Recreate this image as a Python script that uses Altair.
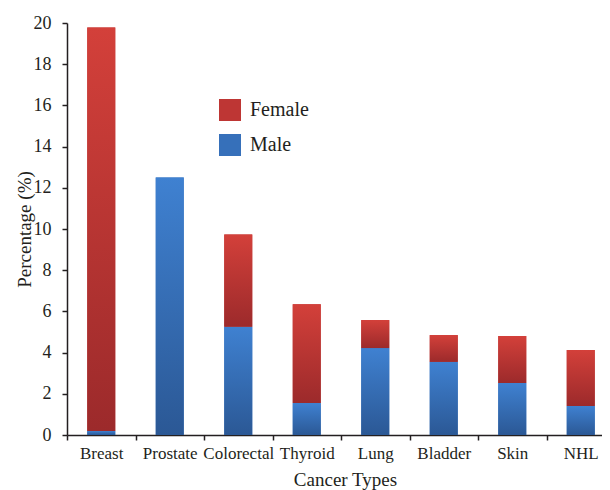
import altair as alt
import pandas as pd

categories = ["Breast", "Prostate", "Colorectal", "Thyroid", "Lung", "Bladder", "Skin", "NHL"]
male = [0.2, 12.5, 5.25, 1.55, 4.22, 3.55, 2.52, 1.41]
female = [19.58, 0.0, 4.48, 4.8, 1.36, 1.3, 2.28, 2.72]

FONT = "Liberation Serif"
TXT = "#231F20"

wide = pd.DataFrame({"cat": categories, "male": male, "female": female})
wide["total"] = wide["male"] + wide["female"]

long_rows = []
for c, m, f in zip(categories, male, female):
    long_rows.append({"cat": c, "sex": "Male", "lo": 0.0, "hi": m})
    long_rows.append({"cat": c, "sex": "Female", "lo": m, "hi": m + f})
long = pd.DataFrame(long_rows)

red_grad = alt.Gradient(
    gradient="linear", x1=0, y1=0, x2=0, y2=1,
    stops=[alt.GradientStop(color="#D3403A", offset=0), alt.GradientStop(color="#9C2A2B", offset=1)],
)
blue_grad = alt.Gradient(
    gradient="linear", x1=0, y1=0, x2=0, y2=1,
    stops=[alt.GradientStop(color="#3F81D1", offset=0), alt.GradientStop(color="#2B5895", offset=1)],
)

x_enc = alt.X(
    "cat:N", sort=categories,
    scale=alt.Scale(paddingInner=0.0, paddingOuter=0.0),
    axis=alt.Axis(
        title="Cancer Types", labelAngle=0, tickBand="extent",
        labelFont=FONT, labelFontSize=17, labelPadding=5, tickSize=5,
        titleFont=FONT, titleFontSize=19, titleX=278, titleY=50, titleBaseline="alphabetic",
    ),
)
y_scale = alt.Scale(domain=[0, 20], nice=False)
y_axis = alt.Axis(
    title="Percentage (%)", values=list(range(0, 21, 2)),
    labelFont=FONT, labelFontSize=18, labelPadding=11, tickSize=5, grid=False,
    titleFont=FONT, titleFontSize=19, titleX=-43, titleY=206, titleAngle=-90, titleBaseline="middle",
)

underlay = alt.Chart(long).mark_bar(size=28, strokeWidth=0).encode(
    x=x_enc,
    y=alt.Y("lo:Q", scale=y_scale, axis=y_axis),
    y2="hi:Q",
    color=alt.Color(
        "sex:N",
        scale=alt.Scale(domain=["Female", "Male"], range=["#BE3634", "#3670BA"]),
        legend=alt.Legend(
            title=None, orient="none", legendX=152, legendY=76,
            symbolType="square", symbolSize=484, symbolStrokeWidth=0,
            labelFont=FONT, labelFontSize=20, labelOffset=9, rowPadding=13, padding=0,
        ),
    ),
)

male_layer = alt.Chart(wide).mark_bar(size=28, color=blue_grad, strokeWidth=0).encode(
    x=alt.X("cat:N", sort=categories),
    y=alt.Y("male:Q", scale=y_scale),
)
female_layer = alt.Chart(wide).mark_bar(size=28, color=red_grad, strokeWidth=0).encode(
    x=alt.X("cat:N", sort=categories),
    y=alt.Y("male:Q", scale=y_scale),
    y2="total:Q",
)

chart = (
    alt.layer(underlay, male_layer, female_layer)
    .properties(
        width=548, height=412,
        autosize=alt.AutoSizeParams(type="none"),
        padding={"left": 59, "top": 15, "right": -13, "bottom": 55},
    )
    .configure_view(stroke=None)
    .configure_axis(
        labelFont=FONT, titleFont=FONT, labelColor=TXT, titleColor=TXT,
        domainColor="#231F20", tickColor="#231F20", domainWidth=1.5, tickWidth=1.5,
        titleFontWeight="normal",
    )
    .configure_legend(labelFont=FONT, labelColor=TXT)
)

chart.save("out.html", embed_options={"renderer": "svg", "actions": False})
